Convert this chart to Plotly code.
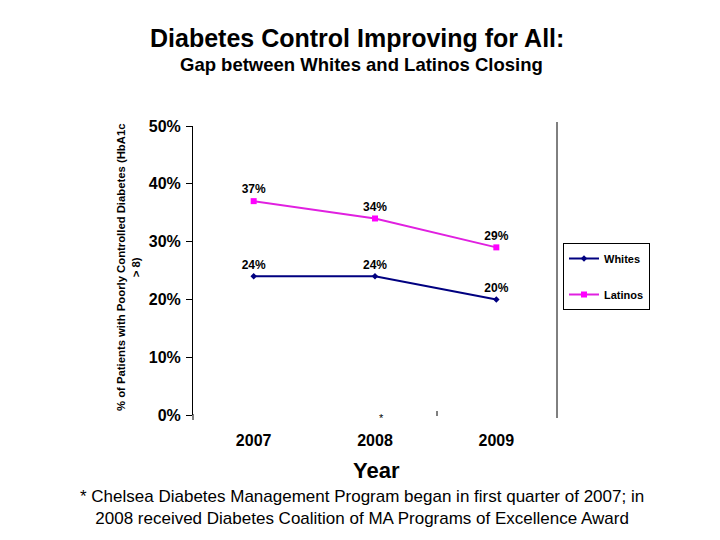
import plotly.graph_objects as go

years = ["2007", "2008", "2009"]
whites = [24, 24, 20]
latinos = [37, 34, 29]
y_ticks = [0, 10, 20, 30, 40, 50]

L, R, T, B = 193, 163, 126, 125
PW, PH = 720 - L - R, 540 - T - B

def px(x):
    return (x - L) / PW

def py(y):
    return (540 - B - y) / PH

fig = go.Figure()
fig.add_trace(go.Scatter(
    x=years, y=whites, name="Whites", mode="lines+markers+text",
    line=dict(color="#000080", width=2),
    marker=dict(symbol="diamond", size=5, color="#000080"),
    text=[f"<b>{v}%</b>" for v in whites], textposition="top center",
    textfont=dict(family="Arial", size=12, color="black"),
    legendgroup="a",
))
fig.add_trace(go.Scatter(
    x=years, y=latinos, name="Latinos", mode="lines+markers+text",
    line=dict(color="#E020E0", width=2),
    marker=dict(symbol="square", size=6, color="#FF00FF"),
    text=[f"<b>{v}%</b>" for v in latinos], textposition="top center",
    textfont=dict(family="Arial", size=12, color="black"),
    legendgroup="b",
))

fig.update_layout(
    width=720, height=540,
    margin=dict(l=L, r=R, t=T, b=B, autoexpand=False),
    paper_bgcolor="white", plot_bgcolor="white",
    font=dict(family="Arial", color="black"),
    showlegend=True,
    legend=dict(
        x=px(563), y=py(243), xanchor="left", yanchor="top",
        bordercolor="black", borderwidth=1, bgcolor="white",
        font=dict(family="Arial", size=11, color="black", weight="bold"),
        tracegroupgap=17, itemwidth=30, traceorder="grouped",
    ),
    xaxis=dict(
        type="category", range=[-0.5, 2.5], showline=False, showgrid=False,
        ticks="", zeroline=False, ticklabelstandoff=14,
        tickfont=dict(family="Arial", size=16, color="black", weight="bold"),
    ),
    yaxis=dict(
        range=[0, 50], tickvals=y_ticks, ticktext=[f"{v}%" for v in y_ticks],
        showline=True, linecolor="black", linewidth=1,
        ticks="outside", ticklen=6, tickcolor="black",
        showgrid=False, zeroline=False, ticklabelstandoff=2,
        tickfont=dict(family="Arial", size=16, color="black", weight="bold"),
    ),
)

fig.add_shape(type="line", xref="paper", yref="paper",
              x0=1, x1=1, y0=py(418), y1=py(122),
              line=dict(color="black", width=1))
fig.add_shape(type="line", xref="paper", yref="paper",
              x0=0, x1=0, y0=py(420), y1=py(414),
              line=dict(color="black", width=1))
fig.add_shape(type="line", xref="paper", yref="paper",
              x0=px(437), x1=px(437), y0=py(416), y1=py(411),
              line=dict(color="black", width=1))

ann = [
    dict(text="<b>Diabetes Control Improving for All:</b>", x=px(357), y=py(38), size=25),
    dict(text="<b>Gap between Whites and Latinos Closing</b>", x=px(361), y=py(64), size=18.5),
    dict(text="<b>Year</b>", x=px(376), y=py(470), size=22),
    dict(text="* Chelsea Diabetes Management Program began in first quarter of 2007; in<br>2008 received Diabetes Coalition of MA Programs of Excellence Award",
         x=px(362), y=py(507), size=17),
    dict(text="*", x=px(381), y=py(418), size=11),
]
for a in ann:
    fig.add_annotation(text=a["text"], x=a["x"], y=a["y"], xref="paper", yref="paper",
                       showarrow=False, xanchor="center", yanchor="middle",
                       font=dict(family="Arial", size=a["size"], color="black"))

fig.add_annotation(
    text="<b>% of Patients with Poorly Controlled Diabetes (HbA1c<br>&gt; 8)</b>",
    x=px(128), y=py(268), xref="paper", yref="paper", showarrow=False,
    textangle=-90, xanchor="center", yanchor="middle",
    font=dict(family="Arial", size=11.3, color="black"))

fig.write_html("out.html", config={"displayModeBar": False},
               post_script="document.body.style.margin='0';")
